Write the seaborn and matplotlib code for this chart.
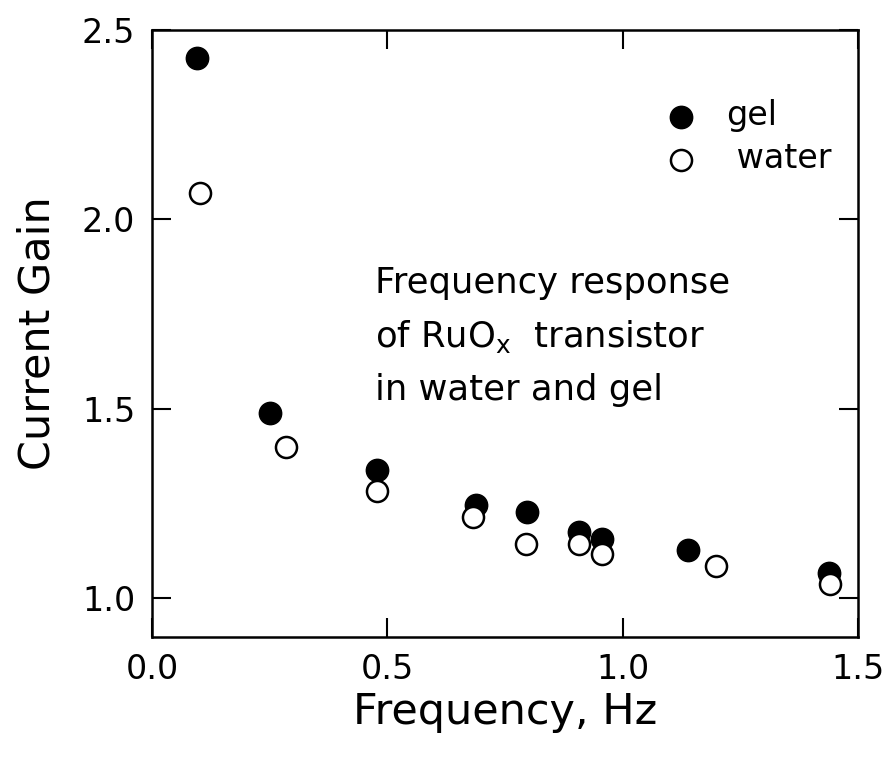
import matplotlib
matplotlib.use("Agg")
import matplotlib.pyplot as plt
import seaborn as sns
import pandas as pd

# Frequency response of a RuOx transistor
gel_freq = [0.095, 0.251, 0.479, 0.688, 0.797, 0.908, 0.957, 1.139, 1.439]
gel_gain = [2.427, 1.489, 1.337, 1.247, 1.227, 1.174, 1.157, 1.126, 1.067]
water_freq = [0.102, 0.285, 0.479, 0.683, 0.795, 0.908, 0.957, 1.198, 1.440]
water_gain = [2.069, 1.398, 1.284, 1.214, 1.144, 1.144, 1.116, 1.085, 1.037]

x_ticks = [0.0, 0.5, 1.0, 1.5]
y_ticks = [1.0, 1.5, 2.0, 2.5]

sns.set_style("ticks")
plt.rcParams["font.family"] = ["DejaVu Sans"]
plt.rcParams["mathtext.fontset"] = "dejavusans"
plt.rcParams["text.color"] = "black"
plt.rcParams["axes.labelcolor"] = "black"

fig = plt.figure(figsize=(8.95, 7.57), dpi=100)
ax = fig.add_axes([0.1698, 0.1589, 0.7888, 0.8015])

gel = pd.DataFrame({"freq": gel_freq, "gain": gel_gain})
water = pd.DataFrame({"freq": water_freq, "gain": water_gain})

sns.scatterplot(data=gel, x="freq", y="gain", ax=ax, s=260, color="black",
                edgecolor="black", linewidth=1.0, marker="o", label="gel",
                zorder=3)
sns.scatterplot(data=water, x="freq", y="gain", ax=ax, s=230, facecolor="white",
                edgecolor="black", linewidth=1.8, marker="o", label=" water",
                zorder=4)

ax.set_xlim(0.0, 1.5)
ax.set_ylim(0.898, 2.5)
ax.set_xticks(x_ticks)
ax.set_yticks(y_ticks)
ax.set_xticklabels([f"{v:.1f}" for v in x_ticks])
ax.set_yticklabels([f"{v:.1f}" for v in y_ticks])

for side in ["left", "right", "top", "bottom"]:
    ax.spines[side].set_visible(True)
    ax.spines[side].set_linewidth(1.8)
    ax.spines[side].set_color("black")

ax.tick_params(axis="both", which="major", direction="in", length=13.5,
               width=1.5, top=True, right=True, labelsize=24, colors="black")
ax.tick_params(axis="x", pad=12)
ax.tick_params(axis="y", pad=12)

ax.set_xlabel("Frequency, Hz", fontsize=31, labelpad=3, color="black")
ax.set_ylabel("Current Gain", fontsize=31, labelpad=17, color="black")

note_kw = dict(transform=ax.transAxes, fontsize=25.5, va="baseline",
               ha="left", color="black")
ax.text(0.316, 0.5665, "Frequency response", **note_kw)
ax.text(0.316, 0.4775, r"of RuO$_{\mathregular{x}}$  transistor", **note_kw)
ax.text(0.316, 0.390, "in water and gel", **note_kw)

leg = ax.legend(loc="upper left", bbox_to_anchor=(0.7255, 0.8855), frameon=False,
                fontsize=24, handlelength=1.0, handletextpad=0.85,
                labelspacing=0.3, borderpad=0.0, borderaxespad=0.0)
for t in leg.get_texts():
    t.set_color("black")

fig.savefig("out.png", dpi=100)
